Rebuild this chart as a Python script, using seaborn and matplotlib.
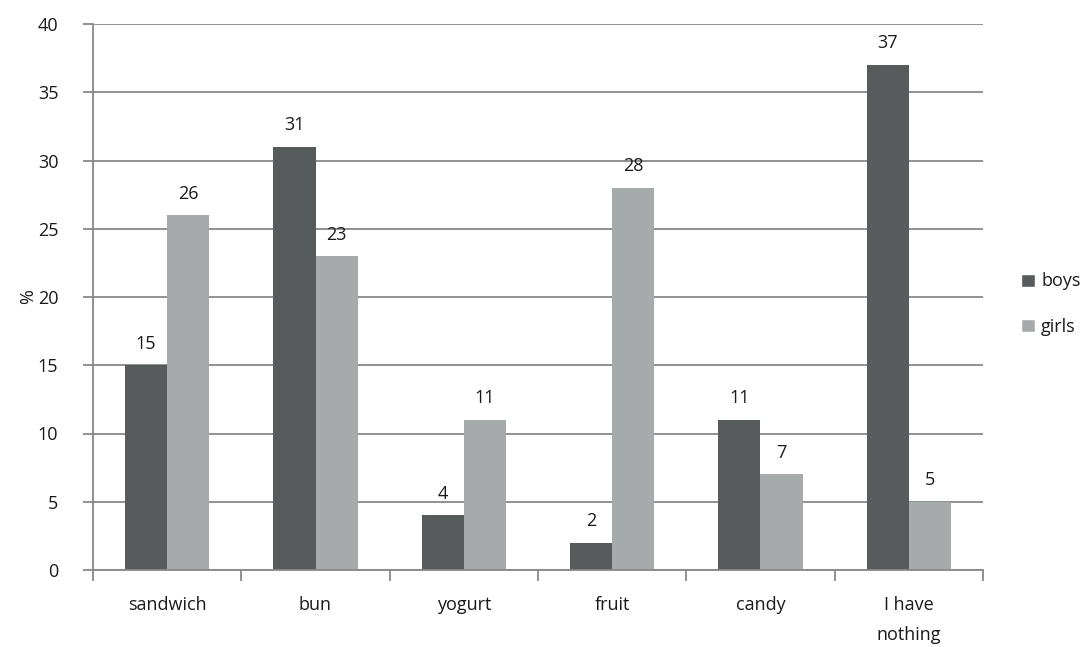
import matplotlib
matplotlib.use("Agg")
import matplotlib.pyplot as plt
import seaborn as sns
import pandas as pd
from matplotlib.ticker import MultipleLocator, FixedLocator
from matplotlib.patches import Patch

categories = ["sandwich", "bun", "yogurt", "fruit", "candy", "I have\nnothing"]
boys = [15, 31, 4, 2, 11, 37]
girls = [26, 23, 11, 28, 7, 5]
series_names = ["boys", "girls"]
y_label = "%"

df = pd.DataFrame({
    "category": categories * 2,
    "value": boys + girls,
    "group": [series_names[0]] * len(boys) + [series_names[1]] * len(girls),
})

sns.set_theme(style="white")
plt.rcParams["font.family"] = ["Open Sans", "DejaVu Sans"]
FS = 13

colors = {"boys": "#585b5c", "girls": "#a7aaab"}
fig = plt.figure(figsize=(10.88, 6.47), dpi=100)
ax = fig.add_axes([93 / 1088, 1 - 570 / 647, (983 - 93) / 1088, (570 - 24) / 647])

sns.barplot(data=df, x="category", y="value", hue="group", palette=colors,
            width=0.57, ax=ax, legend=False, saturation=1, linewidth=0)

for cont in ax.containers:
    ax.bar_label(cont, padding=9, fontsize=FS, color="#1a1a1a")

ax.set_ylim(0, 40)
ax.set_xlim(-0.5, len(categories) - 0.5)
ax.yaxis.set_major_locator(MultipleLocator(5))
ax.grid(axis="y", color="#888888", linewidth=1.3)
ax.set_axisbelow(True)
for s in ["top", "right"]:
    ax.spines[s].set_visible(False)
ax.spines["left"].set_color("#888888")
ax.spines["bottom"].set_color("#888888")
ax.spines["left"].set_linewidth(1.3)
ax.spines["bottom"].set_linewidth(1.3)

ax.tick_params(axis="y", length=7, width=1.3, color="#888888", labelsize=FS, pad=18,
               left=True, labelcolor="#1a1a1a")
ax.tick_params(axis="x", which="major", length=0, labelsize=FS, pad=19, bottom=True,
               labelcolor="#1a1a1a")
ax.xaxis.set_minor_locator(FixedLocator([i - 0.5 for i in range(len(categories) + 1)]))
ax.tick_params(axis="x", which="minor", length=8, width=1.3, color="#888888", bottom=True)
for lab in ax.get_xticklabels():
    lab.set_linespacing(1.85)
    lab.set_verticalalignment("top")

ax.set_xlabel("")
ax.set_ylabel(y_label, fontsize=FS, color="#1a1a1a")
ax.yaxis.set_label_coords((37 - 93) / 890, 0.5)

handles = [Patch(facecolor=colors[n], label=n) for n in series_names]
fig.legend(handles=handles, loc="center left", bbox_to_anchor=(1005 / 1088, 1 - 304 / 647),
           frameon=False, fontsize=FS, handlelength=0.75, handleheight=0.75,
           handletextpad=0.35, labelspacing=1.5, labelcolor="#1a1a1a")

fig.savefig("out.png", dpi=100, facecolor="white")
